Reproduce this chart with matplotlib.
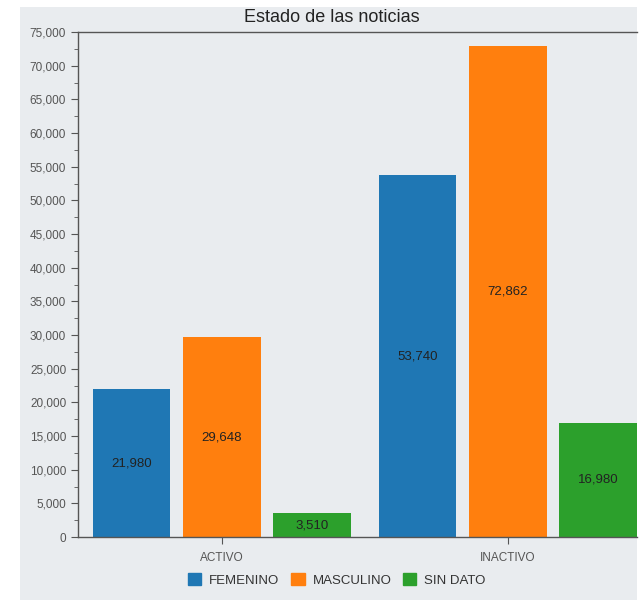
import matplotlib
matplotlib.use('Agg')
import matplotlib.pyplot as plt
from matplotlib.patches import Rectangle
from matplotlib.ticker import MultipleLocator, FuncFormatter
import numpy as np

# Data
categories = ['ACTIVO', 'INACTIVO']
series_names = ['FEMENINO', 'MASCULINO', 'SIN DATO']
femenino = [21980, 53740]
masculino = [29648, 72862]
sin_dato = [3510, 16980]
colors = ['#1f77b4', '#ff7f0e', '#2ca02c']

plt.rcParams['font.family'] = ['Liberation Sans', 'DejaVu Sans']

fig = plt.figure(figsize=(6.39, 6.0), dpi=100, facecolor='white')
bg = '#e9ecef'
# gray panel behind everything (white margin at left/top like the reference)
fig.patches.append(Rectangle((20 / 639, 0), 617 / 639, 593 / 600,
                             transform=fig.transFigure, facecolor=bg,
                             edgecolor='none', zorder=-10))

ax = fig.add_axes([78 / 639, 63 / 600, 559 / 639, 505 / 600])
ax.set_facecolor(bg)

x = np.arange(len(categories))
width = 0.27
step = 0.315
values = [femenino, masculino, sin_dato]
for i, (name, vals) in enumerate(zip(series_names, values)):
    pos = x + (i - 1) * step
    bars = ax.bar(pos, vals, width, color=colors[i], label=name, zorder=2)
    for b, v in zip(bars, vals):
        ax.text(b.get_x() + b.get_width() / 2, v / 2, f'{v:,}',
                ha='center', va='center', fontsize=9.5, color='#222222', zorder=3)

ax.set_xlim(-0.503, 1.451)
ax.set_ylim(0, 75000)
ax.yaxis.set_major_locator(MultipleLocator(5000))
ax.yaxis.set_minor_locator(MultipleLocator(2500))
ax.yaxis.set_major_formatter(FuncFormatter(lambda v, p: f'{int(v):,}'))
ax.set_xticks(x)
ax.set_xticklabels(categories)

ax.spines['right'].set_visible(False)
for s in ['left', 'bottom', 'top']:
    ax.spines[s].set_color('#555555')
    ax.spines[s].set_linewidth(1.0)

ax.tick_params(axis='y', which='major', labelsize=8.5, labelcolor='#555555',
               color='#555555', length=5)
ax.tick_params(axis='y', which='minor', color='#555555', length=3)
ax.tick_params(axis='x', labelsize=8.5, labelcolor='#555555', color='#555555',
               length=5, pad=6)

fig.text(332 / 639, 1 - 17 / 600, 'Estado de las noticias',
         ha='center', va='center', fontsize=13, color='#222222')

handles = [Rectangle((0, 0), 1, 1, color=c) for c in colors]
fig.legend(handles, series_names, loc='center', bbox_to_anchor=(337 / 639, 1 - 580 / 600),
           ncol=3, frameon=False, fontsize=9.5, handlelength=1.0, handleheight=1.0,
           columnspacing=0.9, handletextpad=0.6, labelcolor='#333333')

fig.savefig('out.png', dpi=100, facecolor='white')
